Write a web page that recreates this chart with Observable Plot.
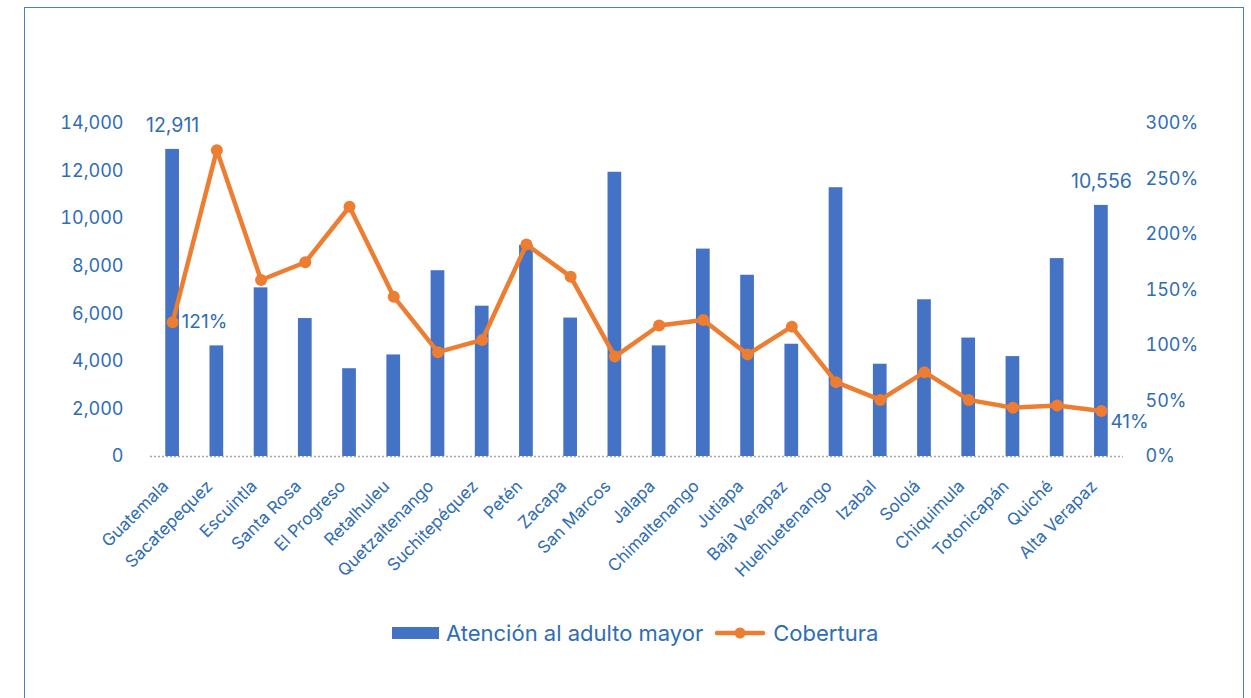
<!DOCTYPE html>
<html>
<head>
<meta charset="utf-8">
<script src="https://cdn.jsdelivr.net/npm/d3@7"></script>
<script src="https://cdn.jsdelivr.net/npm/@observablehq/plot@0.6"></script>
<style>
  body { margin: 0; background: #fff; font-family: Inter, "Noto Sans", sans-serif; width: 1251px; height: 698px; overflow: hidden; position: relative; }
  #frame { position: absolute; left: 24px; top: 7px; width: 1220px; height: 760px; border: 1.5px solid #4a7ec6; box-sizing: border-box; }
  #chart { position: absolute; left: 0; top: 0; }
  #legend { position: absolute; left: 392px; top: 620px; display: flex; align-items: center; color: #2f6db5; font-size: 22px; font-family: Inter, sans-serif; white-space: nowrap; }
  #legend .sw-bar { width: 47px; height: 12px; background: #4472c4; margin-right: 7px; }
  #legend .sw-line { margin: 0 8px 0 12px; }
</style>
</head>
<body>
<div id="frame"></div>
<div id="chart"></div>
<div id="legend">
  <div class="sw-bar"></div><span>Atención al adulto mayor</span>
  <svg class="sw-line" width="50" height="14"><line x1="2" y1="7" x2="48" y2="7" stroke="#ed7d31" stroke-width="4.5" stroke-linecap="round"/><circle cx="25" cy="7" r="5.5" fill="#ed7d31"/></svg><span>Cobertura</span>
</div>
<script>
// ---- Data ----
const departamentos = ["Guatemala","Sacatepequez","Escuintla","Santa Rosa","El Progreso","Retalhuleu","Quetzaltenango","Suchitepéquez","Petén","Zacapa","San Marcos","Jalapa","Chimaltenango","Jutiapa","Baja Verapaz","Huehuetenango","Izabal","Sololá","Chiquimula","Totonicapán","Quiché","Alta Verapaz"];
const atencion = [12911,4650,7090,5800,3690,4270,7810,6320,8880,5820,11950,4650,8720,7620,4720,11300,3880,6590,4980,4200,8320,10556];
const cobertura = [121,276,159,175,225,144,94,105,191,162,90,118,123,92,117,67,51,76,51,44,46,41];
const leftTicks = [0,2000,4000,6000,8000,10000,12000,14000];
const rightTicks = [0,50,100,150,200,250,300];

// ---- Build ----
const Y_MAX = 14000, P_MAX = 300;
const toY = p => p * Y_MAX / P_MAX;
const rows = departamentos.map((d, i) => ({dep: d, val: atencion[i], pct: cobertura[i], py: toY(cobertura[i])}));
const blue = "#4472c4", orange = "#ed7d31", textBlue = "#2f6db5";
const fmtN = d3.format(",");
const first = rows.filter(r => r.dep === "Guatemala");
const last = rows.filter(r => r.dep === "Alta Verapaz");

const chart = Plot.plot({
  width: 1251,
  height: 620,
  marginTop: 123,
  marginBottom: 164,
  marginLeft: 150,
  marginRight: 128,
  style: {fontFamily: "Inter, sans-serif", fontSize: "18px", color: textBlue, background: "transparent"},
  x: {type: "band", domain: departamentos, paddingInner: 0.69, paddingOuter: 0.345, round: false},
  y: {domain: [0, Y_MAX], nice: false},
  marks: [
    Plot.ruleY([0], {stroke: "#a6a6a6", strokeWidth: 1.5, strokeDasharray: "2,2"}),
    Plot.barY(rows, {x: "dep", y: "val", fill: blue}),
    Plot.lineY(rows, {x: "dep", y: "py", stroke: orange, strokeWidth: 4.5, strokeLinejoin: "round"}),
    Plot.dot(rows, {x: "dep", y: "py", r: 6, fill: orange}),
    Plot.axisY({anchor: "left", ticks: leftTicks, tickFormat: fmtN, tickSize: 0, tickPadding: 27, fontSize: 18, label: null}),
    Plot.axisY({anchor: "right", ticks: rightTicks.map(toY), tickFormat: v => Math.round(v * P_MAX / Y_MAX) + "%", tickSize: 0, tickPadding: 22, fontSize: 18, textAnchor: "start", label: null}),
    Plot.axisX({tickRotate: -45, tickSize: 0, tickPadding: 27, dx: -7, fontSize: 17, label: null}),
    Plot.text(first.concat(last), {x: "dep", y: "val", text: d => fmtN(d.val), dy: -24, fontSize: 19.5, fill: textBlue}),
    Plot.text(first, {x: "dep", y: "py", text: d => d.pct + "%", dx: 9, textAnchor: "start", fontSize: 19, fill: textBlue}),
    Plot.text(last, {x: "dep", y: "py", text: d => d.pct + "%", dx: 9, dy: 11, textAnchor: "start", fontSize: 19, fill: textBlue})
  ]
});
document.getElementById("chart").appendChild(chart);
</script>
</body>
</html>
